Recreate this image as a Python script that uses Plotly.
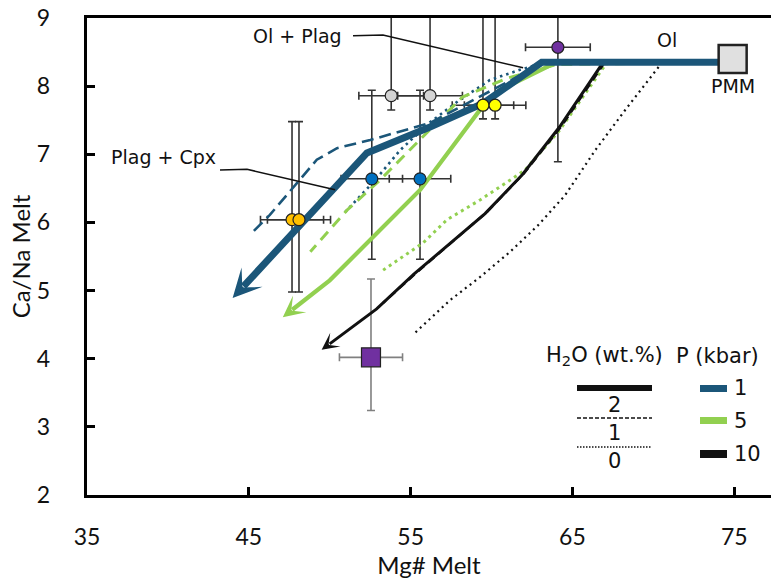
import plotly.graph_objects as go

# ---------------- data ----------------
x_ticks = [35, 45, 55, 65, 75]
y_ticks = [2, 3, 4, 5, 6, 7, 8, 9]
X_RANGE = [35, 77.27]
Y_RANGE = [2, 9]

# model liquid lines of descent: Mg# (x) vs Ca/Na (y)
# P = 1 kbar
p1_w2_x = [75, 63.1, 59.5, 56.2, 52.3, 44.0]
p1_w2_y = [8.35, 8.35, 7.75, 7.40, 7.02, 4.89]
p1_w1_x = [75, 63.3, 60.5, 56.2, 52.5, 50.45, 49.2, 47.85, 46.3, 45.25]
p1_w1_y = [8.35, 8.35, 8.0, 7.46, 7.21, 7.09, 6.92, 6.55, 6.11, 5.86]
p1_w0_x = [75, 63.3, 61.76, 59.9, 58.05, 56.2, 54.35, 52.8, 50.95]
p1_w0_y = [8.35, 8.35, 8.24, 8.09, 7.80, 7.47, 7.06, 6.62, 6.15]
# P = 5 kbar
p5_w2_x = [75, 64.0, 60.5, 59.5, 55.6, 52.5, 50.0, 47.1]
p5_w2_y = [8.35, 8.35, 7.94, 7.72, 6.48, 5.74, 5.15, 4.61]
p5_w1_x = [75, 64.05, 61.0, 58.2, 56.6, 54.96, 53.1, 51.07, 48.8]
p5_w1_y = [8.35, 8.32, 8.12, 7.84, 7.46, 7.06, 6.62, 6.18, 5.57]
p5_w0_x = [75, 67.14, 64.23, 62.07, 61.14, 59.29, 57.25, 55.77, 53.3]
p5_w0_y = [8.35, 8.35, 7.36, 6.77, 6.62, 6.33, 6.04, 5.70, 5.30]
# P = 10 kbar
p10_w2_x = [75, 66.9, 64.2, 61.9, 59.6, 57.4, 55.2, 52.9, 49.5]
p10_w2_y = [8.35, 8.35, 7.40, 6.70, 6.13, 5.68, 5.24, 4.73, 4.13]
p10_w1_x = [75, 67.0, 64.35, 62.0, 59.7, 57.5, 55.35, 53.3]
p10_w1_y = [8.35, 8.35, 7.42, 6.72, 6.15, 5.70, 5.26, 4.82]
p10_w0_x = [75, 70.55, 68.26, 66.41, 64.55, 62.88, 61.15, 59.30, 57.44, 55.27]
p10_w0_y = [8.35, 8.35, 7.65, 7.06, 6.40, 5.96, 5.57, 5.20, 4.86, 4.38]

# natural samples (mean +/- error)
grey_x = [53.8, 56.2];   grey_y = [7.86, 7.86]
grey_ex = [2.0, 2.0];    grey_eyp = [1.5, 1.5];   grey_eym = [0.21, 0.21]
yel_x = [59.47, 60.22];  yel_y = [7.72, 7.72]
yel_ex = [1.9, 1.9];     yel_eyp = [1.5, 1.5];    yel_eym = [0.2, 0.2]
blu_x = [52.6, 55.58];   blu_y = [6.64, 6.64]
blu_ex = [1.9, 1.9];     blu_eyp = [1.3, 1.3];    blu_eym = [1.18, 1.18]
ora_x = [47.67, 48.1];   ora_y = [6.04, 6.04]
ora_ex = [1.95, 1.95];   ora_eyp = [1.44, 1.44];  ora_eym = [1.06, 1.06]
pur_x = [64.1];          pur_y = [8.57]
pur_ex = [2.0];          pur_ey = [1.68]
sq_x = [52.55];          sq_y = [4.02]
sq_ex = [1.95];          sq_eyp = [1.15];         sq_eym = [0.78]
pmm_x = [74.9];          pmm_y = [8.4]

# ---------------- style ----------------
BLUE = "#1B5679"
GREEN = "#92D050"
BLACK = "#111111"
W, H = 771, 584
ML, MR, MT, MB = 87, 0, 18, 89
PW, PH = W - ML - MR, H - MT - MB
SX = PW / (X_RANGE[1] - X_RANGE[0])
SY = PH / (Y_RANGE[1] - Y_RANGE[0])

fig = go.Figure()

def errtrace(x, y, ex, eyp, eym, color="#333333"):
    fig.add_trace(go.Scatter(
        x=x, y=y, mode="markers", marker=dict(size=1, opacity=0),
        error_x=dict(type="data", array=ex, color=color, thickness=1.6, width=4),
        error_y=dict(type="data", symmetric=False, array=eyp, arrayminus=eym,
                     color=color, thickness=1.6, width=4),
        showlegend=False, hoverinfo="skip", cliponaxis=True))

errtrace(grey_x, grey_y, grey_ex, grey_eyp, grey_eym)
errtrace(yel_x, yel_y, yel_ex, yel_eyp, yel_eym)
errtrace(blu_x, blu_y, blu_ex, blu_eyp, blu_eym)
errtrace(ora_x, ora_y, ora_ex, ora_eyp, ora_eym)
errtrace(pur_x, pur_y, pur_ex, pur_ey, pur_ey)
errtrace(sq_x, sq_y, sq_ex, sq_eyp, sq_eym, color="#808080")

def line(x, y, color, width, dash):
    fig.add_trace(go.Scatter(x=x, y=y, mode="lines",
                             line=dict(color=color, width=width, dash=dash),
                             showlegend=False, hoverinfo="skip"))

# dotted (0 wt.% H2O)
line(p10_w0_x, p10_w0_y, BLACK, 2.2, "2px,4px")
line(p5_w0_x, p5_w0_y, GREEN, 3, "3px,4px")
line(p1_w0_x, p1_w0_y, BLUE, 2.6, "2.5px,4px")
# dashed (1 wt.% H2O)
line(p10_w1_x, p10_w1_y, BLACK, 2.4, "8px,5px")
line(p5_w1_x, p5_w1_y, GREEN, 3, "11px,7px")
line(p1_w1_x, p1_w1_y, BLUE, 2.6, "12px,6px")

# solid with arrow heads (2 wt.% H2O)
def arrowline(x, y, color, width, asize, back_px):
    x0, y0, x1, y1 = x[-2], y[-2], x[-1], y[-1]
    dxp, dyp = (x1 - x0) * SX, (y1 - y0) * SY
    L = (dxp ** 2 + dyp ** 2) ** 0.5
    t = max(0.0, 1 - back_px / L)
    xe, ye = x0 + (x1 - x0) * t, y0 + (y1 - y0) * t
    line(list(x[:-1]) + [xe], list(y[:-1]) + [ye], color, width, "solid")
    fig.add_annotation(x=x1, y=y1, ax=xe - (x1 - xe) * 0.01, ay=ye - (y1 - ye) * 0.01,
                       xref="x", yref="y", axref="x", ayref="y", text="",
                       showarrow=True, arrowhead=3, arrowsize=asize,
                       arrowwidth=width, arrowcolor=color, standoff=0)

arrowline(p10_w2_x, p10_w2_y, BLACK, 3, 0.95, 10)
arrowline(p5_w2_x, p5_w2_y, GREEN, 4.2, 0.85, 12)
arrowline(p1_w2_x, p1_w2_y, BLUE, 7, 0.68, 16)

# markers on top
def pts(x, y, color, size=12, symbol="circle"):
    fig.add_trace(go.Scatter(x=x, y=y, mode="markers",
                             marker=dict(color=color, size=size, symbol=symbol,
                                         line=dict(color="#222222", width=1.2)),
                             showlegend=False, hoverinfo="skip"))

pts(grey_x, grey_y, "#D4D4D4")
pts(yel_x, yel_y, "#FFFF00")
pts(blu_x, blu_y, "#0070C0")
pts(ora_x, ora_y, "#FFC000")
pts(pur_x, pur_y, "#7030A0")
pts(sq_x, sq_y, "#7030A0", size=19, symbol="square")
fig.add_trace(go.Scatter(x=pmm_x, y=pmm_y, mode="markers",
                         marker=dict(color="#E0E0E0", size=28, symbol="square",
                                     line=dict(color="#222222", width=2.5)),
                         showlegend=False, hoverinfo="skip", cliponaxis=False))

# phase field labels and leader lines
AF = dict(family="DejaVu Sans", size=19, color="#111111")
fig.add_annotation(x=47.98, y=8.74, text="Ol + Plag", showarrow=False, font=AF)
fig.add_annotation(x=39.7, y=6.96, text="Plag + Cpx", showarrow=False, font=AF)
fig.add_annotation(x=70.85, y=8.68, text="Ol", showarrow=False, font=AF)
fig.add_annotation(x=74.9, y=8.0, text="PMM", showarrow=False, font=AF)
lead1_x = [51.44, 53.29, 61.95]; lead1_y = [8.74, 8.75, 8.27]
lead2_x = [43.22, 44.89, 50.33]; lead2_y = [6.77, 6.78, 6.48]
for lx, ly in [(lead1_x, lead1_y), (lead2_x, lead2_y)]:
    fig.add_trace(go.Scatter(x=lx, y=ly, mode="lines",
                             line=dict(color="#111111", width=1.5),
                             showlegend=False, hoverinfo="skip"))

# custom legend (paper coordinates from pixel positions)
def px(xp): return (xp - ML) / PW
def py(yp): return (H - MB - yp) / PH

LF = dict(family="DejaVu Sans", size=21, color="#111111")
def ptext(x, y, text, xanchor="center"):
    fig.add_annotation(xref="paper", yref="paper", x=px(x), y=py(y), text=text,
                       xanchor=xanchor, yanchor="middle", showarrow=False, font=LF)

ptext(604, 356, "H<sub>2</sub>O (wt.%)")
ptext(717, 356, "P (kbar)")
for yy, wd, ds, lab, ly in [(388, 6, "solid", "2", 405),
                            (418, 1.5, "4px,2px", "1", 433),
                            (447, 1.5, "1.5px,1.5px", "0", 461)]:
    fig.add_shape(type="line", xref="paper", yref="paper",
                  x0=px(577), x1=px(652), y0=py(yy), y1=py(yy),
                  line=dict(color="#111111", width=wd, dash=ds))
    ptext(614, ly, lab)
for y0, y1, col, lab in [(385, 392, BLUE, "1"), (417, 424, GREEN, "5"),
                         (450, 458, BLACK, "10")]:
    fig.add_shape(type="rect", xref="paper", yref="paper",
                  x0=px(700), x1=px(727), y0=py(y1), y1=py(y0),
                  line=dict(width=0), fillcolor=col)
    ptext(732, (y0 + y1) / 2, lab, xanchor="left")

TF = dict(family="Lato", size=23, color="#111111")
TTF = dict(family="Lato", size=24, color="#111111")
fig.update_xaxes(range=X_RANGE, tickvals=x_ticks, showgrid=False, zeroline=False,
                 showline=True, linewidth=3.4, linecolor="black", mirror=True,
                 ticks="inside", ticklen=8, tickwidth=3, tickcolor="black",
                 tickfont=TF, ticklabelstandoff=19,
                 title=dict(text="Mg# Melt", font=TTF, standoff=6))
fig.update_yaxes(range=Y_RANGE, tickvals=y_ticks, showgrid=False, zeroline=False,
                 showline=True, linewidth=3.4, linecolor="black", mirror=False,
                 ticks="inside", ticklen=8, tickwidth=3, tickcolor="black",
                 tickfont=TF, ticklabelstandoff=29,
                 title=dict(text="Ca/Na Melt", font=TTF, standoff=0))
fig.update_layout(width=W, height=H, margin=dict(l=ML, r=MR, t=MT, b=MB),
                  plot_bgcolor="white", paper_bgcolor="white", showlegend=False)
fig.write_html("out.html")
